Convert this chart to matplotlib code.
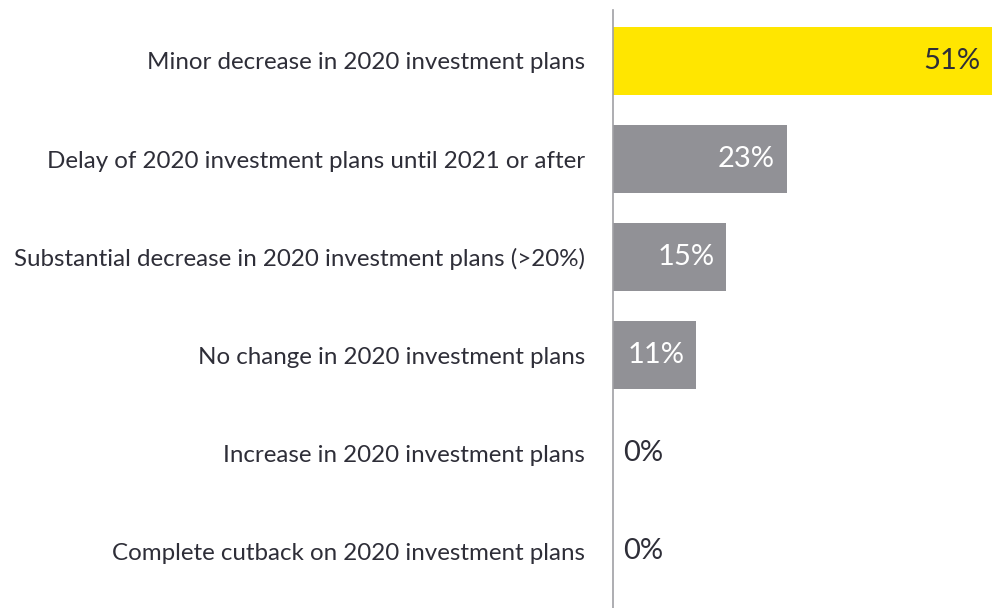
import matplotlib
matplotlib.use('Agg')
import matplotlib.pyplot as plt

# ============= data ========================
categories = ['Minor decrease in 2020 investment plans',
              'Delay of 2020 investment plans until 2021 or after',
              'Substantial decrease in 2020 investment plans (>20%)',
              'No change in 2020 investment plans',
              'Increase in 2020 investment plans',
              'Complete cutback on 2020 investment plans']
values = [51, 23, 15, 11, 0, 0]
bar_colors = ['#FFE600', '#919196', '#919196', '#919196', '#919196', '#919196']

text_color = '#2E2E38'
plt.rcParams['font.family'] = ['Lato', 'DejaVu Sans']

fig = plt.figure(figsize=(9.92, 6.08), dpi=100)
ax = fig.add_axes([613 / 992, 0, 1 - 613 / 992, 1 - 10 / 608])

ypos = list(range(len(categories)))
ax.barh(ypos, values, height=0.694, color=bar_colors)
# top bar runs a bit past the right edge of the figure
xmax = 50.1
ax.set_xlim(0, xmax)
ax.set_ylim(5.58, -0.52)

for s in ['top', 'right', 'bottom']:
    ax.spines[s].set_visible(False)
ax.spines['left'].set_color('#A0A0A4')
ax.spines['left'].set_linewidth(1.2)
ax.set_xticks([])
ax.set_yticks(ypos)
ax.set_yticklabels(categories, fontsize=17.4, color=text_color)
ax.tick_params(axis='y', length=0, pad=20)

for y, v in zip(ypos, values):
    if v == 0:
        ax.annotate(f'{v}%', (0, y), xytext=(10, 0), textcoords='offset pixels',
                    ha='left', va='center', fontsize=21, color=text_color)
    else:
        col = text_color if v == max(values) else 'white'
        ax.annotate(f'{v}%', (min(v, xmax), y), xytext=(-12, 0), textcoords='offset pixels',
                    ha='right', va='center', fontsize=21, color=col)

plt.savefig('out.png', dpi=100)
